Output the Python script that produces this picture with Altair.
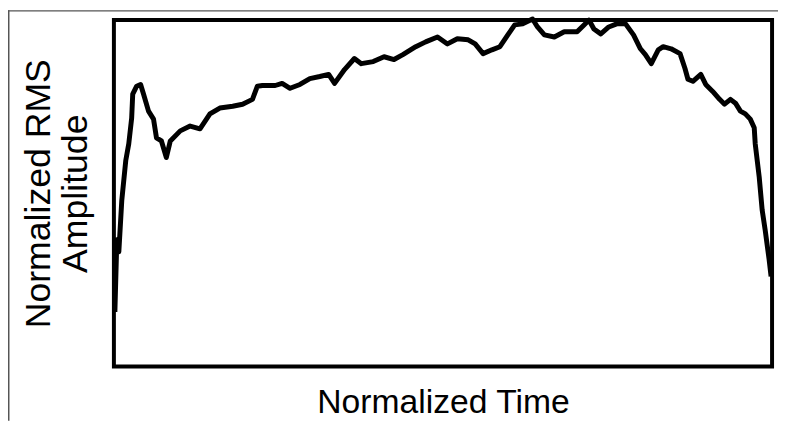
import altair as alt
import pandas as pd

# Normalized time (0..1) and normalized RMS amplitude (0..1)
time = [0.0015, 0.0045, 0.0075, 0.012, 0.018, 0.0226, 0.027, 0.0286, 0.0346, 0.0406,
        0.0451, 0.0526, 0.0602, 0.0647, 0.0722, 0.0797, 0.0857, 0.1008, 0.1158, 0.1308,
        0.1459, 0.1609, 0.1805, 0.1955, 0.2105, 0.2180, 0.2256, 0.2451, 0.2556, 0.2677,
        0.2827, 0.2977, 0.3128, 0.3263, 0.3353, 0.3504, 0.3654, 0.3759, 0.3940, 0.4105,
        0.4256, 0.4391, 0.4586, 0.4737, 0.4917, 0.5068, 0.5218, 0.5383, 0.5489, 0.5609,
        0.5744, 0.5865, 0.5985, 0.6090, 0.6211, 0.6361, 0.6436, 0.6541, 0.6692, 0.6842,
        0.7038, 0.7143, 0.7218, 0.7293, 0.7398, 0.7519, 0.7639, 0.7774, 0.7895, 0.8000,
        0.8075, 0.8165, 0.8271, 0.8346, 0.8466, 0.8602, 0.8677, 0.8722, 0.8797, 0.8917,
        0.8992, 0.9098, 0.9203, 0.9278, 0.9368, 0.9444, 0.9519, 0.9594, 0.9669, 0.9729,
        0.9744, 0.9805, 0.9850, 0.9895, 0.9955, 0.9985]
amplitude = [0.157, 0.366, 0.331, 0.480, 0.594, 0.643, 0.717, 0.786, 0.809, 0.814,
             0.786, 0.737, 0.714, 0.660, 0.651, 0.603, 0.651, 0.680, 0.694, 0.686,
             0.729, 0.746, 0.751, 0.757, 0.771, 0.809, 0.811, 0.811, 0.817, 0.803,
             0.814, 0.831, 0.837, 0.843, 0.817, 0.857, 0.889, 0.874, 0.880, 0.894,
             0.886, 0.900, 0.923, 0.937, 0.951, 0.931, 0.946, 0.943, 0.931, 0.903,
             0.914, 0.923, 0.957, 0.986, 0.989, 1.003, 0.980, 0.957, 0.951, 0.966,
             0.966, 0.986, 1.000, 0.974, 0.960, 0.980, 0.989, 0.989, 0.957, 0.917,
             0.900, 0.874, 0.914, 0.923, 0.917, 0.903, 0.860, 0.829, 0.823, 0.843,
             0.814, 0.794, 0.771, 0.757, 0.771, 0.760, 0.737, 0.729, 0.714, 0.689,
             0.643, 0.546, 0.451, 0.394, 0.309, 0.260]

x_title = "Normalized Time"
y_title = ["Normalized RMS", "Amplitude"]

df = pd.DataFrame({"t": time, "a": amplitude})

W, H = 665, 350
PAD = {"left": 107, "top": 10, "right": 6, "bottom": 55}

line = alt.Chart(df).mark_line(color="black", strokeWidth=5, strokeJoin="round").encode(
    x=alt.X("t:Q", scale=alt.Scale(domain=[0, 1], nice=False, zero=False),
            axis=alt.Axis(title=x_title, domain=False, ticks=False, labels=False, grid=False,
                          titleFont="Liberation Sans", titleFontSize=34, titleFontWeight="normal",
                          titleColor="black", titleBaseline="alphabetic", titleY=47)),
    y=alt.Y("a:Q", scale=alt.Scale(domain=[0, 1], nice=False, zero=False),
            axis=alt.Axis(title=y_title, domain=False, ticks=False, labels=False, grid=False,
                          titleFont="Liberation Sans", titleFontSize=36, titleFontWeight="normal",
                          titleColor="black", titleAngle=-90, titleAlign="center",
                          titleBaseline="alphabetic", titleX=-65, titleY=H / 2,
                          titleLineHeight=37)),
)

frame_top = alt.Chart(df.head(1)).mark_rule(color="#555555", strokeWidth=1.5).encode(
    x=alt.value(-PAD["left"]), x2=alt.value(W + PAD["right"]), y=alt.value(-PAD["top"] + 0.75))
frame_left = alt.Chart(df.head(1)).mark_rule(color="#555555", strokeWidth=1.5).encode(
    x=alt.value(-PAD["left"] + 0.75), y=alt.value(-PAD["top"]), y2=alt.value(H + PAD["bottom"]))

chart = alt.layer(line, frame_top, frame_left).properties(
    width=W, height=H, padding=PAD, autosize=alt.AutoSizeParams(type="none"),
    background="white",
).configure_view(stroke="black", strokeWidth=4)

chart.save("out.html", embed_options={"renderer": "svg", "actions": False})
